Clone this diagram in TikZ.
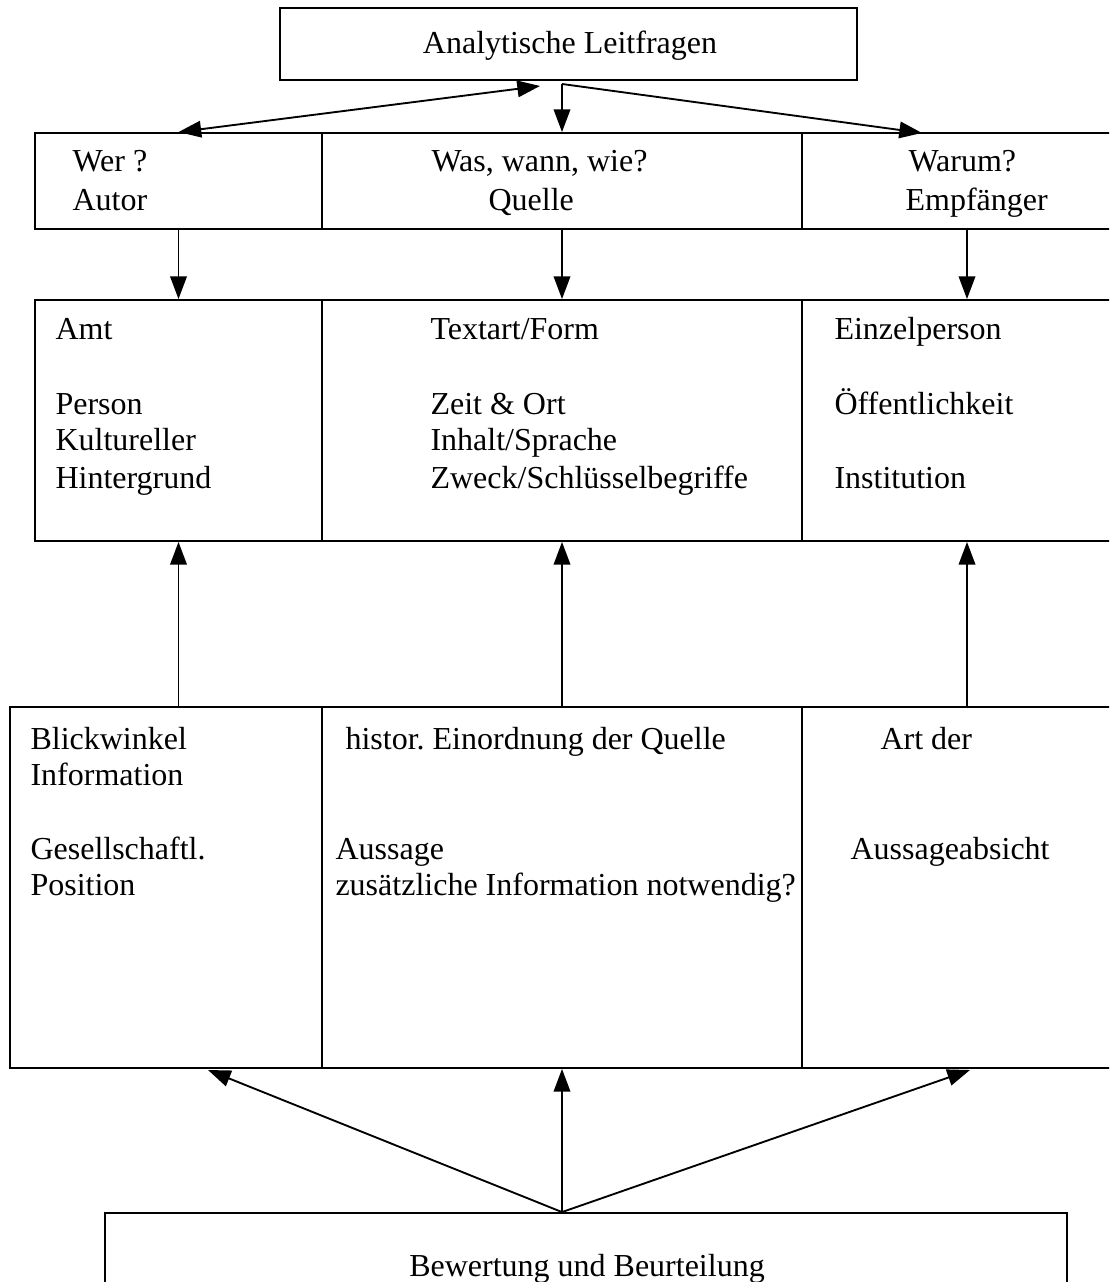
\documentclass[tikz,border=0pt]{standalone}
\usepackage{fontspec}
\setmainfont{Liberation Serif}
\usetikzlibrary{arrows.meta,fit}
\begin{document}
\begin{tikzpicture}[x=0.375pt,y=-0.375pt,
  cell/.style={draw,line width=0.7pt,inner sep=0pt},
  txt/.style={anchor=base west,inner sep=0pt,font=\fontsize{12pt}{13.8pt}\selectfont},
  tip/.tip={Triangle[length=8.5pt,width=6.2pt]},
  arr/.style={-tip,line width=0.7pt}]
\useasboundingbox (0,0) rectangle (1109,1282);
\clip (0,0) rectangle (1109,1282);
% boxes
\node[cell,fit={(280,8)(857,80)}] (top) {};
\node[cell,fit={(35,133)(322,229)}] (r1a) {};
\node[cell,fit={(322,133)(802,229)}] (r1b) {};
\node[cell,fit={(802,133)(1132,229)}] (r1c) {};
\node[cell,fit={(35,300)(322,541)}] (r2a) {};
\node[cell,fit={(322,300)(802,541)}] (r2b) {};
\node[cell,fit={(802,300)(1132,541)}] (r2c) {};
\node[cell,fit={(10,707)(322,1068)}] (r3a) {};
\node[cell,fit={(322,707)(802,1068)}] (r3b) {};
\node[cell,fit={(802,707)(1132,1068)}] (r3c) {};
\node[cell,fit={(105,1213)(1067,1320)}] (bot) {};
% texts
\node[txt,anchor=base] (t0) at (570,54) {Analytische Leitfragen};
\node[txt] (t1) at (72,172) {Wer ?};
\node[txt] (t2) at (72,211) {Autor};
\node[txt] (t3) at (431,172) {Was, wann, wie?};
\node[txt] (t4) at (488,211) {Quelle};
\node[txt] (t5) at (908,172) {Warum?};
\node[txt] (t6) at (905,211) {Empfänger};
\node[txt] (t7) at (55,340) {Amt};
\node[txt] (t8) at (55,415) {Person};
\node[txt] (t9) at (55,451) {Kultureller};
\node[txt] (t10) at (55,488) {Hintergrund};
\node[txt] (t11) at (430,340) {Textart/Form};
\node[txt] (t12) at (430,415) {Zeit \& Ort};
\node[txt] (t13) at (430,451) {Inhalt/Sprache};
\node[txt] (t14) at (430,488) {Zweck/Schlüsselbegriffe};
\node[txt] (t15) at (834,340) {Einzelperson};
\node[txt] (t16) at (834,415) {Öffentlichkeit};
\node[txt] (t17) at (834,488) {Institution};
\node[txt] (t18) at (30,749) {Blickwinkel};
\node[txt] (t19) at (30,785) {Information};
\node[txt] (t20) at (30,859) {Gesellschaftl.};
\node[txt] (t21) at (30,895) {Position};
\node[txt] (t22) at (345,749) {histor.\ Einordnung der Quelle};
\node[txt] (t23) at (335,859) {Aussage};
\node[txt] (t24) at (335,895) {zusätzliche Information notwendig?};
\node[txt] (t25) at (880,749) {Art der};
\node[txt] (t26) at (850,859) {Aussageabsicht};
\node[txt,anchor=base] (t27) at (587,1276) {Bewertung und Beurteilung};
% connectors
\coordinate (hub) at (562,84);
\coordinate (hubL) at (540,86);
\coordinate (rt) at (922,133);
\draw[tip-tip,line width=0.7pt] (r1a.north) -- (hubL);
\draw[arr] (hub) -- (r1b.north);
\draw[arr] (hub) -- (rt);
\draw[arr] (r1a.south) -- (r2a.north);
\draw[arr] (r1b.south) -- (r2b.north);
\draw[arr] (r1c.south) -- (r2c.north);
\draw[arr] (r3a.north -| r2a.south) -- (r2a.south);
\draw[arr] (r3b.north) -- (r2b.south);
\draw[arr] (r3c.north) -- (r2c.south);
\coordinate (bhub) at (bot.north -| r3b.south);
\coordinate (bl) at (208,1070);
\coordinate (br) at (970,1070);
\draw[arr] (bhub) -- (bl);
\draw[arr] (bhub) -- (r3b.south);
\draw[arr] (bhub) -- (br);
\end{tikzpicture}
\end{document}
